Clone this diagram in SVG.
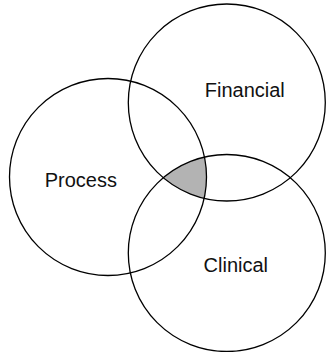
<svg xmlns="http://www.w3.org/2000/svg" width="326" height="352" viewBox="0 0 326 352">
<style>
.c{fill:none;stroke:#000;stroke-width:1.3}
.t{font-family:"Liberation Sans",Arial,sans-serif;font-size:20px;fill:#111;text-anchor:middle}
</style>
<defs>
<clipPath id="clipP"><circle cx="108" cy="177" r="98.5"/></clipPath>
<clipPath id="clipC"><circle cx="226.8" cy="253" r="98.5"/></clipPath>
</defs>
<rect width="326" height="352" fill="#fff"/>
<g id="overlap" clip-path="url(#clipP)">
<circle cx="226.8" cy="102.5" r="98.5" fill="#b3b3b3" clip-path="url(#clipC)"/>
</g>
<g id="financial">
<circle class="c" cx="226.8" cy="102.5" r="98.5"/>
<text class="t" x="244.8" y="97">Financial</text>
</g>
<g id="process">
<circle class="c" cx="108" cy="177" r="98.5"/>
<text class="t" x="80.8" y="187.3">Process</text>
</g>
<g id="clinical">
<circle class="c" cx="226.8" cy="253" r="98.5"/>
<text class="t" x="235.8" y="272.3">Clinical</text>
</g>
</svg>
